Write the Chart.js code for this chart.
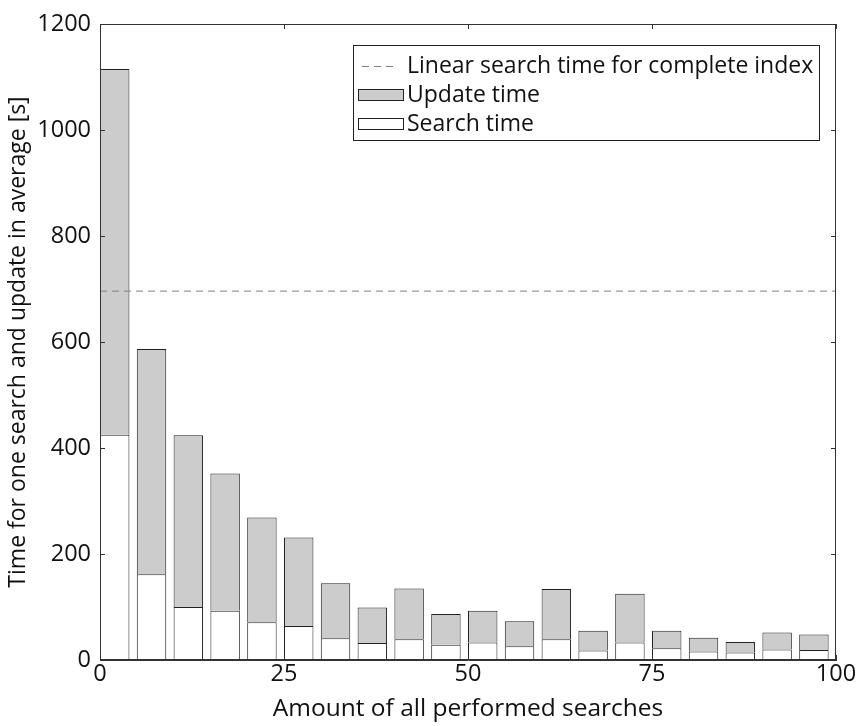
<!DOCTYPE html>
<html>
<head>
<meta charset="utf-8">
<script src="https://cdn.jsdelivr.net/npm/chart.js@4.4.1/dist/chart.umd.min.js"></script>
<style>
  html, body { margin: 0; padding: 0; background: #fff; }
  #wrap { width: 861px; height: 726px; }
</style>
</head>
<body>
<div id="wrap"><canvas id="timesChart" width="861" height="726"></canvas></div>
<script>
// bar centres on the x axis (share of all performed searches, %)
const xCenters = [2, 7, 12, 17, 22, 27, 32, 37, 42, 47, 52, 57, 62, 67, 72, 77, 82, 87, 92, 97];
// average search time per block [s]
const searchTime = [425, 162, 100, 93, 71, 64, 41, 32, 39, 29, 33, 26, 39, 18, 33, 22, 16, 14, 20, 19];
// average update time per block [s], stacked on top of the search time
const updateTime = [690, 425, 324, 259, 198, 167, 104, 67, 96, 58, 60, 47, 95, 37, 92, 33, 26, 20, 32, 29];
// linear search over the complete index [s]
const linearSearch = 696;
const xRange = [0, 100];
const xTicks = [0, 25, 50, 75, 100];
const yTicks = [0, 200, 400, 600, 800, 1000, 1200];

const FONT = '"Open Sans", "Noto Sans", sans-serif';
const INK = '#111';

document.addEventListener('DOMContentLoaded', function(){
    const ctx = document.getElementById('timesChart');

    // frame round the plot area with small ticks pointing inward on all four sides
    const framePlugin = {
        id: 'frame',
        afterDraw(chart){
            const c = chart.ctx, a = chart.chartArea;
            const xs = chart.scales.x, ys = chart.scales.y;
            c.save();
            c.strokeStyle = '#333';
            c.lineWidth = 1;
            c.strokeRect(a.left + 0.5, a.top + 0.5, a.right - a.left - 1, a.bottom - a.top - 1);
            c.beginPath();
            xTicks.forEach(function(v){
                const px = Math.round(xs.getPixelForValue(v)) + 0.5;
                c.moveTo(px, a.bottom); c.lineTo(px, a.bottom - 5);
                c.moveTo(px, a.top); c.lineTo(px, a.top + 5);
            });
            yTicks.forEach(function(v){
                const py = Math.round(ys.getPixelForValue(v)) + 0.5;
                c.moveTo(a.left, py); c.lineTo(a.left + 5, py);
                c.moveTo(a.right, py); c.lineTo(a.right - 5, py);
            });
            c.stroke();
            c.restore();
        }
    };

    // boxed legend in the upper right corner of the plot
    const boxLegend = {
        id: 'boxLegend',
        afterDraw(chart){
            const c = chart.ctx;
            const box = { left: 353, top: 45, right: 820, bottom: 141 };
            c.save();
            c.fillStyle = '#fff';
            c.fillRect(box.left, box.top, box.right - box.left, box.bottom - box.top);
            c.strokeStyle = '#222';
            c.lineWidth = 1;
            c.strokeRect(box.left + 0.5, box.top + 0.5, box.right - box.left - 1, box.bottom - box.top - 1);

            const rows = [66, 95, 124];
            // dashed sample
            c.strokeStyle = '#808080';
            c.setLineDash([7, 5]);
            c.beginPath();
            c.moveTo(362, rows[0] + 0.5); c.lineTo(396, rows[0] + 0.5);
            c.stroke();
            c.setLineDash([]);
            // bar samples
            c.strokeStyle = '#222';
            c.fillStyle = '#cccccc';
            c.fillRect(358.5, rows[1] - 5.5, 45, 11);
            c.strokeRect(358.5, rows[1] - 5.5, 45, 11);
            c.fillStyle = '#fff';
            c.fillRect(358.5, rows[2] - 5.5, 45, 11);
            c.strokeRect(358.5, rows[2] - 5.5, 45, 11);

            c.fillStyle = INK;
            c.font = '23px ' + FONT;
            c.textBaseline = 'middle';
            c.textAlign = 'left';
            const labels = chart.data.datasets.map(function(d){ return d.label; });
            c.fillText(labels[2], 407, rows[0]);
            c.fillText(labels[1], 407, rows[1]);
            c.fillText(labels[0], 407, rows[2]);
            c.restore();
        }
    };

    try{
        new Chart(ctx, {
            type: 'bar',
            data: {
                datasets: [{
                    label: 'Search time',
                    data: xCenters.map(function(x, i){ return { x: x, y: searchTime[i] }; }),
                    backgroundColor: '#ffffff',
                    borderColor: '#222',
                    borderWidth: 1,
                    borderSkipped: false,
                    inflateAmount: 0,
                    barPercentage: 0.8,
                    categoryPercentage: 1,
                    stack: 'times',
                    order: 2
                }, {
                    label: 'Update time',
                    data: xCenters.map(function(x, i){ return { x: x, y: updateTime[i] }; }),
                    backgroundColor: '#cccccc',
                    borderColor: '#222',
                    borderWidth: 1,
                    borderSkipped: 'bottom',
                    inflateAmount: 0,
                    barPercentage: 0.8,
                    categoryPercentage: 1,
                    stack: 'times',
                    order: 2
                }, {
                    type: 'line',
                    label: 'Linear search time for complete index',
                    data: [{ x: xRange[0], y: linearSearch }, { x: xRange[1], y: linearSearch }],
                    borderColor: '#808080',
                    borderWidth: 1,
                    borderDash: [7, 5],
                    pointRadius: 0,
                    fill: false,
                    stack: 'reference',
                    order: 1
                }]
            },
            options: {
                responsive: false,
                animation: false,
                layout: { padding: { top: 24, right: 25, left: 0, bottom: 0 } },
                plugins: { legend: { display: false }, tooltip: { enabled: false } },
                scales: {
                    x: {
                        type: 'linear',
                        stacked: true,
                        offset: false,
                        min: xRange[0],
                        max: xRange[1],
                        afterFit: function(s){ s.height = 66; },
                        afterBuildTicks: function(s){ s.ticks = xTicks.map(function(v){ return { value: v }; }); },
                        grid: { display: false, drawTicks: false },
                        border: { display: true, color: '#333' },
                        ticks: { color: INK, font: { family: FONT, size: 23.5 }, padding: 0, maxRotation: 0,
                                 callback: function(v){ return String(v); } },
                        title: { display: true, text: 'Amount of all performed searches', color: INK,
                                 font: { family: FONT, size: 24.5 }, padding: { top: 0, bottom: 2 } }
                    },
                    y: {
                        stacked: true,
                        min: 0,
                        max: 1200,
                        afterFit: function(s){ s.width = 100; },
                        afterBuildTicks: function(s){ s.ticks = yTicks.map(function(v){ return { value: v }; }); },
                        grid: { display: false, drawTicks: false },
                        border: { display: true, color: '#333' },
                        ticks: { color: INK, font: { family: FONT, size: 23.5 }, padding: 9,
                                 callback: function(v){ return String(v); } },
                        title: { display: true, text: 'Time for one search and update in average [s]', color: INK,
                                 font: { family: FONT, size: 23 }, padding: { top: 5, bottom: 0 } }
                    }
                }
            },
            plugins: [framePlugin, boxLegend]
        });
    }catch(e){ console.error('Chart init error', e); }
});
</script>
</body>
</html>
